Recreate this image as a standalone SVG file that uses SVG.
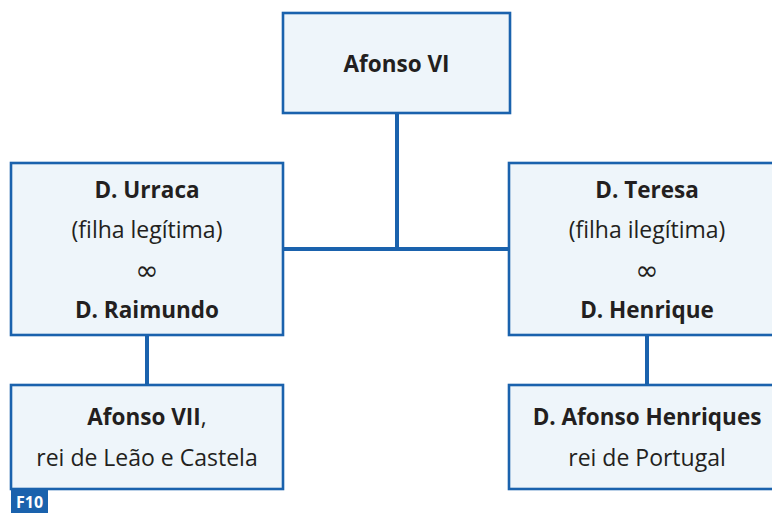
<svg xmlns="http://www.w3.org/2000/svg" width="772" height="513" viewBox="0 0 772 513">
<style>
.box{fill:#eef5fa;stroke:#1a62ad;stroke-width:2.6}
.con{stroke:#1a62ad;stroke-width:4;fill:none}
text{font-family:"Open Sans","Noto Sans",sans-serif;fill:#231f20;text-anchor:middle;font-size:23px}
.b{font-weight:bold;font-size:22.5px}
.inf{font-family:"DejaVu Sans",sans-serif;font-size:28px}
</style>
<rect width="772" height="513" fill="#ffffff"/>
<g id="connectors">
<path class="con" d="M397 113V249M283 249H509M147 335V385M647 335V385"/>
</g>
<g id="afonso6">
<rect class="box" x="283" y="13" width="227" height="100"/>
<text class="b" x="396.5" y="72">Afonso VI</text>
</g>
<g id="urraca">
<rect class="box" x="11" y="163" width="272" height="172"/>
<text class="b" x="147" y="198">D. Urraca</text>
<text x="147" y="238">(filha legítima)</text>
<text class="inf" x="147" y="280">∞</text>
<text class="b" x="147" y="318">D. Raimundo</text>
</g>
<g id="teresa">
<rect class="box" x="509" y="163" width="276" height="172"/>
<text class="b" x="647" y="198">D. Teresa</text>
<text x="647" y="238">(filha ilegítima)</text>
<text class="inf" x="647" y="280">∞</text>
<text class="b" x="647" y="318">D. Henrique</text>
</g>
<g id="afonso7">
<rect class="box" x="11" y="385" width="272" height="104"/>
<text x="147" y="425"><tspan class="b">Afonso VII</tspan>,</text>
<text x="147" y="466">rei de Leão e Castela</text>
</g>
<g id="afonsohenriques">
<rect class="box" x="509" y="385" width="276" height="104"/>
<text class="b" x="647" y="425">D. Afonso Henriques</text>
<text x="647" y="466">rei de Portugal</text>
</g>
<g id="label">
<rect x="11" y="490" width="37" height="23" fill="#1a62ad"/>
<text class="b" x="29.5" y="508" style="fill:#ffffff;font-size:16px">F10</text>
</g>
</svg>
